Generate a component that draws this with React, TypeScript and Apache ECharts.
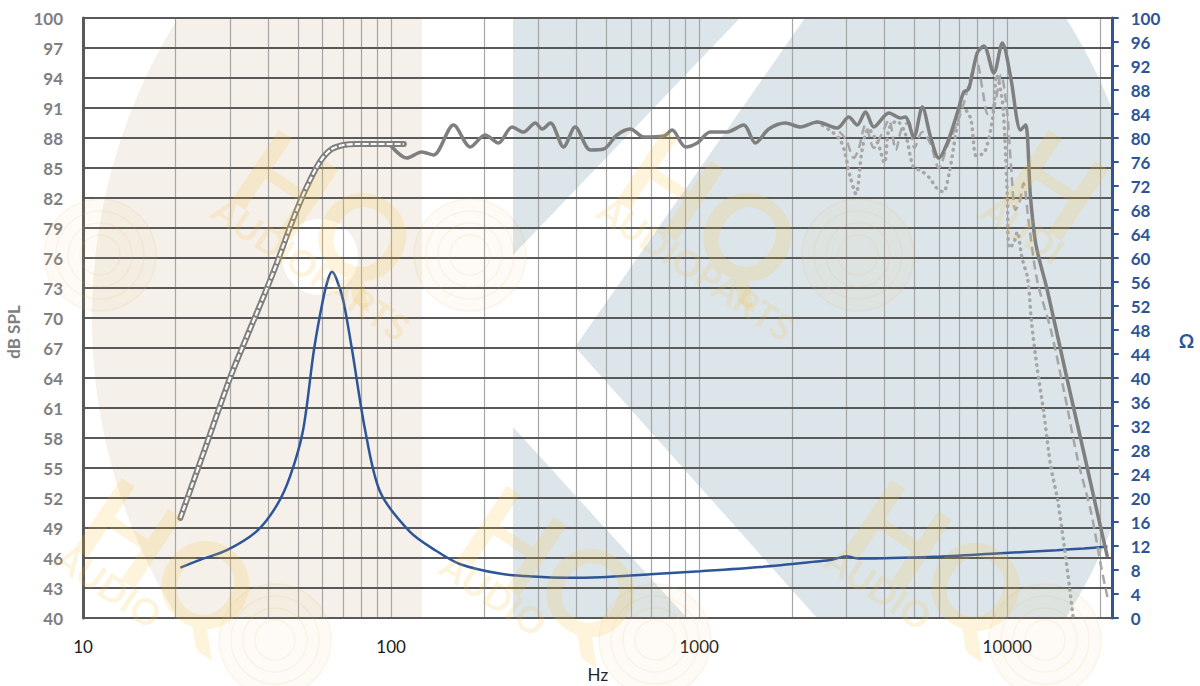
import React, { useEffect, useRef } from "react";
import * as echarts from "echarts";

// ---------- DATA ----------
// Near-field low-frequency SPL (dB)
const lfFreq = [20.7, 25, 30, 34, 38.5, 42.6, 47, 51.3, 54.6, 57.4, 60.3, 64.2, 70, 77, 90, 110];
const lfSpl = [50.0, 57.1, 64.0, 68.1, 72.1, 75.5, 79.1, 82.0, 83.8, 85.1, 86.1, 86.9, 87.3, 87.4, 87.4, 87.4];

// On-axis SPL (dB)
const spl0Freq = [100, 112.5, 125.8, 137.3, 159.5, 180.8, 202, 223, 247, 269, 294, 309, 329, 363, 396, 443, 490, 541, 598, 661, 768, 817, 903, 985, 1087, 1232, 1394, 1523, 1683, 1906, 2133, 2416, 2806, 3061, 3259, 3467, 3690, 4131, 4501, 4669, 4977, 5300, 5640, 6000, 6390, 6885, 7230, 7500, 7990, 8400, 9050, 9640, 10260, 11050, 11470, 11900, 12400, 13490, 15670, 17740, 19620, 21150];
const spl0 = [87.2, 86.0, 86.6, 86.3, 89.3, 87.1, 88.3, 87.5, 89.1, 88.6, 89.5, 88.9, 89.5, 87.1, 89.1, 86.8, 86.9, 88.3, 88.9, 88.1, 88.2, 88.8, 87.1, 87.5, 88.6, 88.6, 89.3, 87.5, 88.9, 89.5, 89.1, 89.6, 89.0, 90.1, 89.3, 90.6, 89.1, 90.5, 90.0, 90.1, 88.1, 91.1, 88.1, 86.0, 87.5, 90.5, 92.6, 92.9, 96.5, 97.2, 94.5, 97.5, 94.1, 88.8, 89.3, 82.1, 77.3, 72.8, 63.8, 56.5, 50.5, 46.1];

// 30 degree off-axis SPL (dB)
const spl30Freq = [2133, 2416, 2806, 3000, 3177, 3300, 3467, 3690, 3900, 4131, 4350, 4550, 4800, 5000, 5300, 5640, 6000, 6390, 6885, 7230, 7600, 7940, 8300, 8650, 9050, 9550, 10000, 10300, 10630, 10950, 11300, 11700, 12500, 13860, 15330, 16950, 18740, 20190, 21150];
const spl30 = [89.1, 89.6, 88.8, 87.8, 86.0, 87.0, 89.3, 87.0, 88.3, 89.8, 86.8, 89.0, 89.6, 87.0, 88.6, 87.4, 85.0, 87.2, 89.5, 91.5, 94.0, 95.8, 93.0, 90.4, 91.0, 94.3, 90.5, 85.0, 80.8, 81.5, 83.5, 80.0, 73.8, 68.8, 62.5, 55.8, 50.5, 45.1, 42.1];

// 60 degree off-axis SPL (dB)
const spl60Freq = [2416, 2870, 3100, 3230, 3380, 3540, 3800, 3995, 4130, 4380, 4660, 4960, 5270, 5600, 5900, 6200, 6500, 6820, 7130, 7600, 7950, 8450, 8970, 9250, 9680, 10000, 10150, 10500, 10780, 11170, 11660, 12000, 12500, 13150, 13860, 14580, 15330, 15930, 16600];
const spl60 = [89.6, 87.8, 84.0, 82.4, 86.8, 88.9, 87.5, 85.5, 88.9, 89.7, 88.5, 85.1, 84.7, 84.0, 83.0, 82.6, 84.7, 88.5, 91.2, 90.0, 86.2, 86.6, 90.0, 94.3, 91.2, 82.4, 77.0, 77.5, 78.6, 76.0, 73.9, 69.5, 65.1, 60.5, 55.1, 51.8, 47.1, 43.1, 38.5];

// Impedance (Ohm)
const impFreq = [20.7, 24, 29.3, 36.7, 42.6, 47, 51.8, 56.2, 60.1, 62.5, 64.3, 66.5, 69.9, 74.7, 82.4, 92.2, 115, 139, 167, 225, 289, 370, 478, 694, 1009, 1581, 2400, 2700, 3000, 3300, 5800, 9500, 14500, 17700, 21150];
const impOhm = [8.4, 9.7, 11.3, 14.5, 18.8, 23.6, 31.3, 44.7, 53.0, 56.5, 57.7, 56.5, 53.0, 44.7, 31.3, 21.0, 14.4, 11.3, 9.0, 7.4, 6.9, 6.7, 6.8, 7.3, 7.8, 8.5, 9.4, 9.7, 10.3, 9.9, 10.2, 10.8, 11.3, 11.6, 11.9];

// Tick labels
const dbTicks = [40, 43, 46, 49, 52, 55, 58, 61, 64, 67, 70, 73, 76, 79, 82, 85, 88, 91, 94, 97, 100];
const gridFreqs = [20, 30, 40, 50, 60, 70, 80, 90, 100, 200, 300, 400, 500, 600, 700, 800, 900, 1000, 2000, 3000, 4000, 5000, 6000, 7000, 8000, 9000, 10000, 20000];

// ---------- STYLE ----------
const BLUE = "#2e5597";
const GRAY = "#7f7f7f";
const LIGHT = "#a6a6a6";
const FONT = "Lato, 'Open Sans', sans-serif";

const PL = 83, PR = 1112.7, PT = 18, PB = 618;
const CX = 622, CY = 318, RX = 530, RY = 549;

function ellX(y: number, side: number) {
  const t = (y - CY) / RY;
  const dx = RX * Math.sqrt(Math.max(0, 1 - t * t));
  return side < 0 ? CX - dx : CX + dx;
}

function backgroundShapes() {
  const beige: number[][] = [];
  for (let y = PT; y <= PB; y += 10) beige.push([Math.max(PL, ellX(y, -1)), y]);
  beige.push([422, PB], [422, PT]);
  const blue: number[][] = [[513, PT]];
  for (let y = PT; y <= PB; y += 10) blue.push([Math.min(PR, ellX(y, 1)), y]);
  blue.push([513, PB]);
  const chevron = [[740, PT], [805, PT], [575, 347], [817, PB], [687, PB], [513, 427], [513, 255]];
  return [
    { type: "polygon", z: 0, silent: true, shape: { points: beige }, style: { fill: "#f5f0e9" } },
    { type: "circle", z: 0, silent: true, shape: { cx: 320, cy: 257, r: 38 }, style: { fill: "#ffffff" } },
    { type: "polygon", z: 0, silent: true, shape: { points: blue }, style: { fill: "#dce5e9" } },
    { type: "polygon", z: 0, silent: true, shape: { points: chevron }, style: { fill: "#ffffff" } },
  ];
}

function watermarks() {
  const els: any[] = [];
  const fill = "rgba(247,188,50,0.17)";
  // [anchorX, anchorY, big letters, small text]
  const marks: [number, number, string, string][] = [
    [227, 190, "HQ", "AUDIOPARTS"],
    [612, 190, "HQ", "AUDIOPARTS"],
    [997, 190, "H", "AUDI"],
    [70, 538, "HQ", "AUDIO"],
    [455, 546, "HQ", "AUDIO"],
    [840, 540, "HQ", "AUDIO"],
  ];
  marks.forEach(([x, y, big, small]) => {
    els.push({
      type: "group", x, y, rotation: -0.59, silent: true, z: 20,
      children: [
        { type: "text", x: 0, y: -98, z: 20, style: { text: big, font: "bold 118px Lato", fill, textAlign: "left", textVerticalAlign: "top" } },
        { type: "text", x: 0, y: 0, z: 20, style: { text: small, font: "bold 36px Lato", fill, textAlign: "left", textVerticalAlign: "top" } },
      ],
    });
  });
  const coils = [[100, 255], [470, 255], [858, 255], [275, 640], [655, 640], [1045, 640]];
  coils.forEach(([cx, cy]) => {
    [56, 44, 32, 20].forEach((r, i) => {
      els.push({
        type: "circle", silent: true, z: 19,
        shape: { cx, cy, r },
        style: { fill: i === 0 ? "rgba(240,205,140,0.08)" : "none", stroke: "rgba(230,185,100,0.12)", lineWidth: 1.5 },
      });
    });
  });
  return els;
}

const pairs = (xs: number[], ys: number[]) => xs.map((x, i) => [x, ys[i]]);

export default function App() {
  const ref = useRef<HTMLDivElement>(null);
  useEffect(() => {
    if (!ref.current) return;
    const chart = echarts.init(ref.current, null, { renderer: "svg" });
    const lineBase = { type: "line", smooth: 0.3, showSymbol: false, silent: true };
    const option: any = {
      animation: false,
      backgroundColor: "#ffffff",
      textStyle: { fontFamily: FONT },
      grid: { left: PL, right: 1200 - PR, top: PT, bottom: 686 - PB, containLabel: false, outerBoundsMode: "none" },
      graphic: [...backgroundShapes(), ...watermarks()],
      xAxis: {
        type: "log",
        logBase: 10,
        min: 10,
        max: 22000,
        name: "Hz",
        nameLocation: "middle",
        nameGap: 48,
        nameTextStyle: { color: "#262626", fontSize: 17, fontFamily: FONT },
        axisLine: { show: false },
        axisTick: { show: false },
        splitLine: { show: false },
        axisLabel: {
          color: "#1a1a1a",
          fontSize: 17,
          fontFamily: FONT,
          margin: 20,
          formatter: (v: number) => {
            const l = Math.log10(v);
            return Math.abs(l - Math.round(l)) < 1e-6 ? String(Math.round(v)) : "";
          },
        },
      },
      yAxis: [
        {
          type: "value",
          min: 40,
          max: 100,
          position: "left",
          name: "dB SPL",
          nameLocation: "middle",
          nameGap: 61,
          nameRotate: 90,
          nameTextStyle: { color: GRAY, fontSize: 17, fontWeight: "bold", fontFamily: FONT, padding: [0, 28, 0, 0] },
          axisLine: { show: true, lineStyle: { color: "#595959", width: 3 } },
          axisTick: { show: false },
          splitLine: { show: false },
          axisLabel: { customValues: dbTicks, color: GRAY, fontSize: 17, fontWeight: "bold", fontFamily: FONT, margin: 20 },
        },
        {
          type: "value",
          min: 0,
          max: 100,
          interval: 4,
          position: "right",
          name: "Ω",
          nameLocation: "middle",
          nameGap: 66,
          nameRotate: 0,
          nameTextStyle: { color: BLUE, fontSize: 19, fontWeight: "bold", fontFamily: FONT, verticalAlign: "top", lineHeight: 44 },
          axisLine: { show: true, lineStyle: { color: BLUE, width: 3 } },
          axisTick: { show: true, inside: false, length: 6, lineStyle: { color: BLUE, width: 2 } },
          splitLine: { show: false },
          axisLabel: { color: BLUE, fontSize: 17, fontWeight: "bold", fontFamily: FONT, margin: 18 },
        },
      ],
      series: [
        {
          type: "line", name: "vgrid", data: [], silent: true, z: 1,
          markLine: {
            silent: true, z: 1, symbol: ["none", "none"], label: { show: false }, animation: false,
            lineStyle: { color: LIGHT, width: 1.2, type: "solid" },
            emphasis: { disabled: true },
            data: gridFreqs.map((v) => ({ xAxis: v })),
          },
        },
        {
          type: "line", name: "hgrid", data: [], silent: true, z: 1, yAxisIndex: 0,
          markLine: {
            silent: true, z: 1, symbol: ["none", "none"], label: { show: false }, animation: false,
            lineStyle: { color: "#595959", width: 2, type: "solid" },
            emphasis: { disabled: true },
            data: dbTicks.map((v) => ({ yAxis: v })),
          },
        },
        {
          ...lineBase, name: "Impedance", yAxisIndex: 1, z: 3,
          lineStyle: { color: BLUE, width: 2.5 }, data: pairs(impFreq, impOhm),
        },
        {
          ...lineBase, name: "SPL near field", yAxisIndex: 0, z: 4,
          lineStyle: { color: GRAY, width: 6, cap: "round" }, data: pairs(lfFreq, lfSpl),
        },
        {
          ...lineBase, name: "SPL near field inner", yAxisIndex: 0, z: 5,
          lineStyle: { color: "#ffffff", width: 2.2, type: [6, 2] }, data: pairs(lfFreq, lfSpl),
        },
        {
          ...lineBase, name: "SPL 60°", yAxisIndex: 0, z: 4,
          lineStyle: { color: LIGHT, width: 3.5, type: [0.5, 6], cap: "round" }, data: pairs(spl60Freq, spl60),
        },
        {
          ...lineBase, name: "SPL 30°", yAxisIndex: 0, z: 5,
          lineStyle: { color: LIGHT, width: 2.5, type: [9, 5] }, data: pairs(spl30Freq, spl30),
        },
        {
          ...lineBase, name: "SPL 0°", yAxisIndex: 0, z: 6,
          lineStyle: { color: GRAY, width: 3.5 }, data: pairs(spl0Freq, spl0),
        },
      ],
    };
    chart.setOption(option);
    return () => chart.dispose();
  }, []);
  return <div ref={ref} style={{ position: "fixed", left: 0, top: 0, width: 1200, height: 686 }} />;
}
